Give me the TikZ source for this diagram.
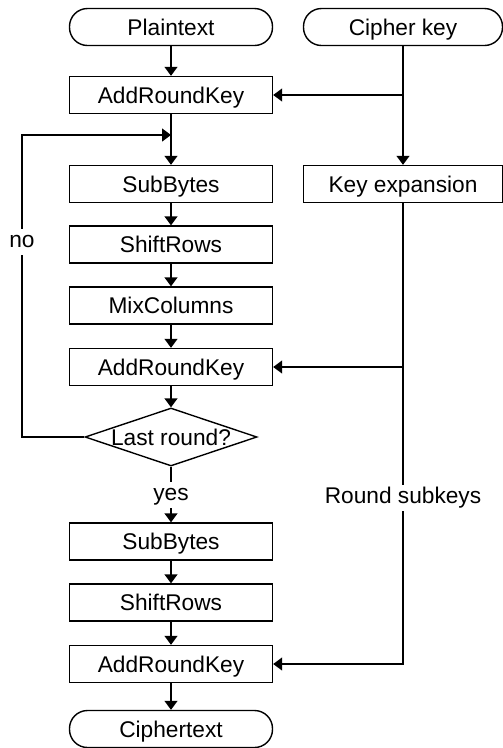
\documentclass[tikz,border=0pt]{standalone}
\usepackage{fontspec}
\setmainfont{Liberation Sans}
\usetikzlibrary{arrows.meta,shapes.geometric}
\begin{document}
\begin{tikzpicture}[x=1pt,y=-1pt,
  every node/.style={font=\fontsize{22.7}{26}\selectfont, inner sep=0pt, text height=16.3pt, text depth=0pt},
  box/.style={draw, line width=1.4pt, minimum width=203pt, minimum height=37pt},
  term/.style={box, rounded corners=18pt},
  arr/.style={line width=1.4pt, -{Triangle[width=13pt,length=9pt]}},
  lbl/.style={fill=white, inner sep=3pt, text depth=4.5pt}]
\useasboundingbox (0,0) rectangle (503,748);
\node[term] (pt) at (171,27) {Plaintext};
\node[box] (ark1) at (171,95) {AddRoundKey};
\node[box] (sb1) at (171,184) {SubBytes};
\node[box] (sr1) at (171,244.5) {ShiftRows};
\node[box] (mc) at (171,305.5) {MixColumns};
\node[box] (ark2) at (171,367) {AddRoundKey};
\node[draw, line width=1.4pt, diamond, minimum width=172pt, minimum height=58pt] (dec) at (171,437) {\makebox[0pt]{Last round?}};
\node[box] (sb2) at (171,541.5) {SubBytes};
\node[box] (sr2) at (171,602.5) {ShiftRows};
\node[box] (ark3) at (171,664) {AddRoundKey};
\node[term] (ct) at (171,729) {Ciphertext};
\node[term, minimum width=199pt] (ck) at (403,27) {Cipher key};
\node[box, minimum width=199pt] (ke) at (403,184) {Key expansion};
\coordinate (lj) at (171,135);
\coordinate (lx) at (22,135);
\coordinate (k1) at (403,95);
% left column
\draw[arr] (pt) -- (ark1);
\draw[arr] (ark1) -- (sb1);
\draw[arr] (sb1) -- (sr1);
\draw[arr] (sr1) -- (mc);
\draw[arr] (mc) -- (ark2);
\draw[arr] (ark2) -- (dec);
\draw[arr] (dec.south) -- (sb2.north);
\draw[arr] (sb2) -- (sr2);
\draw[arr] (sr2) -- (ark3);
\draw[arr] (ark3) -- (ct);
% loop
\draw[arr] (dec.west) -| (lx) -- (lj);
% key column
\draw[arr] (ck) -- (ke);
\draw[arr] (k1) -- (ark1.east);
\draw[arr] (ke.south) |- (ark3.east);
\draw[arr] (ke.south |- ark2.east) -- (ark2.east);
% labels
\node[lbl] (no) at (22,242) {no};
\node[lbl] (yes) at (171,495) {yes};
\node[lbl] (rs) at (403,498) {Round subkeys};
\end{tikzpicture}
\end{document}
